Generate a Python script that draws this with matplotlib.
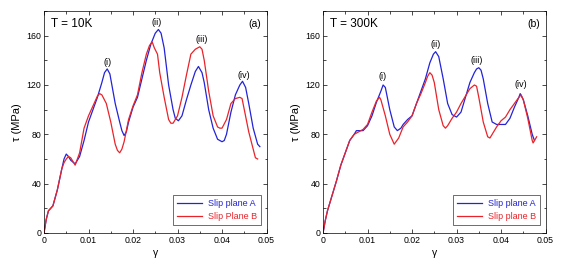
import numpy as np
import matplotlib.pyplot as plt
from matplotlib.ticker import MultipleLocator

plt.rcParams['font.family'] = ['Liberation Sans', 'DejaVu Sans']

#### DATA ####
# panel (a), T = 10K
a_blue_x = [0, 0.0005, 0.001, 0.002, 0.003, 0.004, 0.0045, 0.005, 0.0055, 0.006, 0.007, 0.008, 0.009, 0.010,
            0.011, 0.012, 0.013, 0.0136, 0.0142, 0.0148, 0.0155, 0.016, 0.017, 0.0175, 0.018, 0.0185, 0.019,
            0.020, 0.021, 0.022, 0.023, 0.024, 0.025, 0.0257, 0.0263, 0.027, 0.028, 0.029, 0.0295, 0.0302,
            0.031, 0.032, 0.033, 0.034, 0.0347, 0.0355, 0.036, 0.037, 0.038, 0.039, 0.040, 0.0405, 0.041,
            0.042, 0.043, 0.044, 0.0446, 0.0453, 0.046, 0.047, 0.048, 0.0485]
a_blue_y = [0, 11, 18, 22, 35, 52, 60, 64, 62, 59, 56, 62, 75, 90,
            100, 110, 122, 130, 133, 129, 115, 105, 90, 83, 79, 82, 90,
            102, 110, 125, 140, 153, 162, 165, 162, 150, 120, 100, 93, 91,
            95, 108, 120, 131, 135, 130, 122, 100, 85, 76, 74, 75, 80,
            98, 112, 120, 123, 118, 105, 85, 72, 70]
a_red_x = [0, 0.0005, 0.001, 0.002, 0.003, 0.004, 0.0045, 0.005, 0.0055, 0.006, 0.007, 0.008, 0.009, 0.010,
           0.011, 0.012, 0.0125, 0.013, 0.014, 0.015, 0.016, 0.0165, 0.017, 0.0175, 0.018, 0.019, 0.020,
           0.021, 0.022, 0.023, 0.0237, 0.0243, 0.0248, 0.0255, 0.026, 0.027, 0.028, 0.0285, 0.029, 0.030,
           0.031, 0.032, 0.033, 0.034, 0.0345, 0.035, 0.0355, 0.036, 0.037, 0.038, 0.039, 0.0395, 0.040,
           0.041, 0.042, 0.043, 0.044, 0.0445, 0.045, 0.046, 0.047, 0.0475, 0.048]
a_red_y = [0, 11, 18, 22, 35, 52, 57, 60, 62, 61, 55, 65, 85, 95,
           103, 111, 113, 112, 105, 90, 72, 67, 65, 68, 74, 92, 103,
           112, 130, 145, 152, 155, 150, 145, 130, 110, 92, 89, 89, 95,
           110, 128, 145, 149, 150, 151, 149, 140, 115, 95, 86, 85, 85,
           92, 105, 109, 110, 109, 100, 82, 68, 61, 60]

# panel (b), T = 300K
b_blue_x = [0, 0.0005, 0.001, 0.002, 0.003, 0.004, 0.005, 0.006, 0.007, 0.0075, 0.008, 0.009, 0.010, 0.011,
            0.012, 0.013, 0.0135, 0.014, 0.015, 0.016, 0.0167, 0.0175, 0.018, 0.019, 0.020, 0.021, 0.022,
            0.023, 0.024, 0.0248, 0.0253, 0.026, 0.027, 0.028, 0.029, 0.030, 0.031, 0.032, 0.033, 0.034,
            0.0345, 0.035, 0.0355, 0.036, 0.037, 0.038, 0.039, 0.040, 0.041, 0.042, 0.043, 0.044, 0.0443,
            0.045, 0.046, 0.047, 0.0475]
b_blue_y = [0, 10, 18, 30, 42, 55, 65, 75, 80, 83, 83, 83, 87, 95,
            106, 115, 120, 118, 100, 86, 83, 85, 88, 92, 95, 105, 115,
            125, 138, 145, 147, 143, 125, 105, 96, 94, 98, 110, 122, 130,
            133, 134, 132, 125, 105, 90, 88, 88, 88, 93, 102, 110, 113,
            108, 95, 80, 75]
b_red_x = [0, 0.0005, 0.001, 0.002, 0.003, 0.004, 0.005, 0.006, 0.007, 0.008, 0.009, 0.010, 0.011, 0.012,
           0.0127, 0.013, 0.014, 0.015, 0.016, 0.017, 0.018, 0.019, 0.020, 0.021, 0.022, 0.023, 0.0235,
           0.024, 0.0245, 0.025, 0.026, 0.027, 0.0275, 0.028, 0.029, 0.030, 0.031, 0.032, 0.033, 0.034,
           0.0345, 0.035, 0.036, 0.037, 0.0375, 0.038, 0.039, 0.040, 0.041, 0.042, 0.043, 0.044, 0.0445,
           0.045, 0.046, 0.047, 0.0472, 0.048]
b_red_y = [0, 10, 18, 30, 42, 55, 65, 75, 80, 82, 84, 88, 98, 107,
           110, 108, 95, 80, 72, 77, 86, 90, 95, 105, 113, 122, 127,
           130, 128, 122, 100, 87, 85, 87, 93, 98, 105, 111, 117, 120,
           119, 110, 90, 78, 77, 80, 86, 91, 94, 100, 105, 110, 112,
           108, 93, 75, 73, 78]

panels = [
    dict(bx=a_blue_x, by=a_blue_y, rx=a_red_x, ry=a_red_y, temp='T = 10K', tag='(a)',
         labels=['Slip plane A', 'Slip Plane B'],
         ann=[('(i)', 0.0142, 138), ('(ii)', 0.0253, 171), ('(iii)', 0.0354, 157), ('(iv)', 0.0448, 128)]),
    dict(bx=b_blue_x, by=b_blue_y, rx=b_red_x, ry=b_red_y, temp='T = 300K', tag='(b)',
         labels=['Slip plane A', 'Slip plane B'],
         ann=[('(i)', 0.0133, 127), ('(ii)', 0.0253, 153), ('(iii)', 0.0346, 140), ('(iv)', 0.0445, 120)]),
]

BLUE = '#2323d8'
RED = '#e8242a'

fig = plt.figure(figsize=(5.67, 2.68), dpi=100)
lefts = [0.0776, 0.5697]

for left, p in zip(lefts, panels):
    ax = fig.add_axes([left, 0.1306, 0.3925, 0.8284])
    lb, = ax.plot(p['bx'], p['by'], color=BLUE, lw=0.9)
    lr, = ax.plot(p['rx'], p['ry'], color=RED, lw=0.9)
    ax.set_xlim(0, 0.05)
    ax.set_ylim(0, 180)
    ax.xaxis.set_minor_locator(MultipleLocator(0.005))
    ax.yaxis.set_major_locator(MultipleLocator(40))
    ax.yaxis.set_minor_locator(MultipleLocator(20))
    ax.set_xticks([0, 0.01, 0.02, 0.03, 0.04, 0.05])
    ax.set_xticklabels(['0', '0.01', '0.02', '0.03', '0.04', '0.05'])
    ax.tick_params(which='both', direction='in', top=True, right=True, labelsize=6.3, pad=2)
    ax.tick_params(which='major', length=3, width=0.5)
    ax.tick_params(which='minor', length=1.8, width=0.5)
    for s in ax.spines.values():
        s.set_linewidth(0.5)
    ax.set_xlabel('γ', fontsize=7.5, labelpad=2)
    ax.set_ylabel('τ (MPa)', fontsize=8, labelpad=3)
    ax.text(0.03, 0.94, p['temp'], transform=ax.transAxes, fontsize=8.5, va='center', ha='left')
    ax.text(0.975, 0.94, p['tag'], transform=ax.transAxes, fontsize=7.5, va='center', ha='right')
    for t, x, y in p['ann']:
        ax.text(x, y, t, fontsize=6.5, ha='center', va='center')
    leg = ax.legend([lb, lr], p['labels'], loc='lower right', bbox_to_anchor=(0.975, 0.035),
                    fontsize=6.5, frameon=True, fancybox=False, handlelength=2.8,
                    borderpad=0.45, labelspacing=0.45, handletextpad=0.6, borderaxespad=0)
    leg.get_frame().set_edgecolor('black')
    leg.get_frame().set_linewidth(0.5)
    for txt, c in zip(leg.get_texts(), [BLUE, RED]):
        txt.set_color(c)

plt.savefig('out.png', dpi=100)
